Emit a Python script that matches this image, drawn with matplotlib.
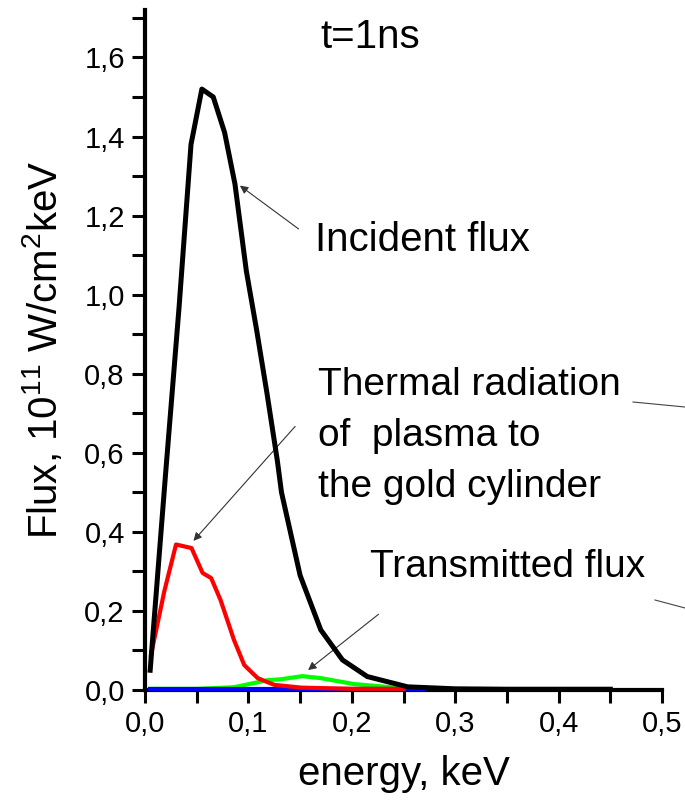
import matplotlib
matplotlib.use("Agg")
import matplotlib.pyplot as plt
from matplotlib.ticker import MultipleLocator, FuncFormatter
from matplotlib.lines import Line2D

plt.rcParams["font.family"] = ["Liberation Sans", "DejaVu Sans"]
plt.rcParams["mathtext.fontset"] = "custom"
plt.rcParams["mathtext.rm"] = "Liberation Sans"
plt.rcParams["mathtext.it"] = "Liberation Sans:italic"

# incident flux (black)
inc_e = [0.005, 0.020, 0.033, 0.0445, 0.055, 0.066, 0.077, 0.087, 0.098, 0.108,
         0.118, 0.128, 0.132, 0.150, 0.170, 0.191, 0.215, 0.254, 0.300, 0.350,
         0.400, 0.450]
inc_f = [0.05, 0.55, 0.97, 1.38, 1.52, 1.50, 1.41, 1.28, 1.06, 0.91,
         0.75, 0.58, 0.50, 0.29, 0.152, 0.076, 0.034, 0.008, 0.003, 0.002,
         0.002, 0.002]

# thermal radiation of plasma (red)
th_e = [0.0058, 0.0187, 0.030, 0.045, 0.0557, 0.064, 0.073, 0.086, 0.096,
        0.109, 0.125, 0.151, 0.200, 0.250]
th_f = [0.089, 0.25, 0.368, 0.359, 0.296, 0.283, 0.228, 0.127, 0.063,
        0.030, 0.013, 0.006, 0.003, 0.003]

# transmitted flux (green)
tr_e = [0.005, 0.050, 0.086, 0.119, 0.131, 0.152, 0.170, 0.202, 0.247, 0.260]
tr_f = [0.003, 0.003, 0.007, 0.025, 0.027, 0.035, 0.030, 0.015, 0.005, 0.003]

# blue baseline curve
bl_e = [0.005, 0.100, 0.200, 0.270]
bl_f = [0.003, 0.003, 0.003, 0.003]

W, H = 685, 805
fig = plt.figure(figsize=(W / 100, H / 100), dpi=100)
ax = fig.add_axes([145 / W, 1 - 690 / H, (662 - 145) / W, (690 - 10) / H])

ax.plot(tr_e, tr_f, color="#00ff00", lw=3.0, zorder=3, clip_on=False)
ax.plot(bl_e, bl_f, color="#0000ff", lw=3.0, zorder=3.5, clip_on=False)
ax.plot(th_e, th_f, color="#ff0000", lw=3.0, zorder=4, clip_on=False)
ax.plot(inc_e, inc_f, color="black", lw=3.6, zorder=5, clip_on=False)

ax.set_xlim(0, 0.5)
ax.set_ylim(0, 1.72)
for s in ("top", "right"):
    ax.spines[s].set_visible(False)
for s in ("left", "bottom"):
    ax.spines[s].set_linewidth(3)

ax.xaxis.set_major_locator(MultipleLocator(0.1))
ax.xaxis.set_minor_locator(MultipleLocator(0.05))
ax.yaxis.set_major_locator(MultipleLocator(0.2))
ax.yaxis.set_minor_locator(MultipleLocator(0.1))
comma = FuncFormatter(lambda v, p: f"{v:.1f}".replace(".", ","))
ax.xaxis.set_major_formatter(comma)
ax.yaxis.set_major_formatter(comma)
ax.tick_params(which="both", direction="out", length=9.5, width=2.2, labelsize=21, pad=5)

ax.set_xlabel("energy, keV", fontsize=29, labelpad=12)
ax.set_ylabel("Flux, 10$^{11}$ W/cm$^{2}$keV", fontsize=29, labelpad=14)


def fx(px):
    return px / W


def fy(py):
    return 1 - py / H


fig.text(fx(320), fy(48), "t=1ns", fontsize=29, va="baseline")
fig.text(fx(315), fy(251), "Incident flux", fontsize=29, va="baseline")
fig.text(fx(318), fy(395), "Thermal radiation", fontsize=28, va="baseline")
fig.text(fx(318), fy(446), "of  plasma to", fontsize=28, va="baseline")
fig.text(fx(318), fy(497), "the gold cylinder", fontsize=28, va="baseline")
fig.text(fx(370), fy(577), "Transmitted flux", fontsize=28, va="baseline")

arrow = dict(arrowstyle="-|>", color="#333333", lw=0.8, mutation_scale=12)
ax.annotate("", xy=(0.0896, 1.28), xytext=(0.1507, 1.162), arrowprops=arrow)
ax.annotate("", xy=(0.0451, 0.372), xytext=(0.147, 0.672), arrowprops=arrow)
ax.annotate("", xy=(0.1556, 0.046), xytext=(0.228, 0.196), arrowprops=arrow)

# stray leader lines at the right edge
fig.add_artist(Line2D([fx(633), fx(685)], [fy(402), fy(407)], color="#444444", lw=0.8))
fig.add_artist(Line2D([fx(655), fx(685)], [fy(600), fy(608)], color="#444444", lw=0.8))

fig.savefig("out.png", dpi=100)
